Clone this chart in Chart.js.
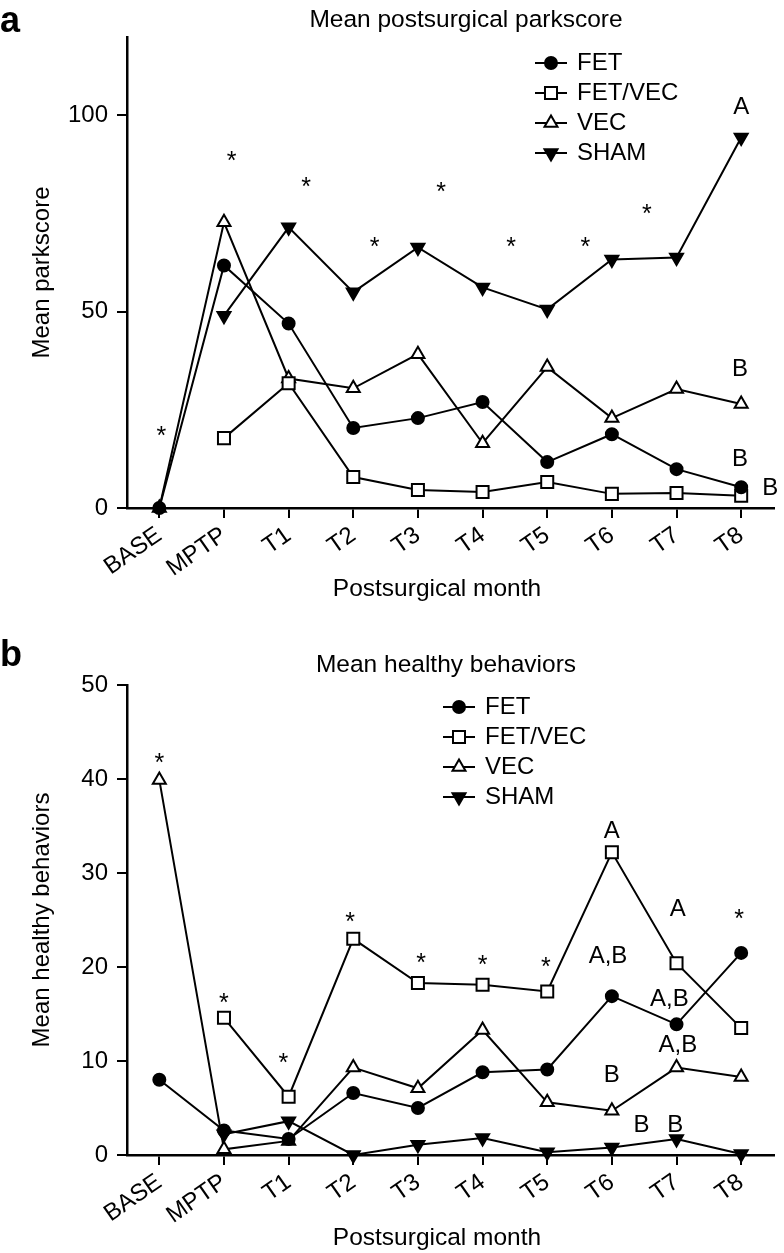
<!DOCTYPE html>
<html>
<head>
<meta charset="utf-8">
<script src="https://cdn.jsdelivr.net/npm/chart.js@4.4.1/dist/chart.umd.min.js"></script>
<style>
  html, body { margin: 0; padding: 0; background: #fff; }
  #wrap { position: relative; width: 784px; height: 1253px; }
  canvas { position: absolute; left: 0; }
</style>
</head>
<body>
<div id="wrap">
  <canvas id="chartA" width="784" height="610" style="top:0"></canvas>
  <canvas id="chartB" width="784" height="643" style="top:610px"></canvas>
</div>
<script>
const FONT = '"Liberation Sans", Arial, Helvetica, sans-serif';
const FS = 24;
Chart.defaults.font.family = FONT;
Chart.defaults.color = '#000';

// categories
const months = ["BASE", "MPTP", "T1", "T2", "T3", "T4", "T5", "T6", "T7", "T8"];

// panel a - mean parkscore
const parkFET = [0, 61.8, 47, 20.4, 22.9, 27, 11.7, 18.8, 9.9, 5.3];
const parkFETVEC = [null, 17.8, 31.8, 7.9, 4.6, 4.1, 6.6, 3.6, 3.8, 3.1];
const parkVEC = [0, 72.8, 33, 30.5, 39.2, 16.5, 35.9, 22.9, 30.3, 26.5];
const parkSHAM = [null, 49, 71.5, 55, 66.4, 56.2, 50.6, 63.3, 63.8, 94.4];
const parkTicks = [0, 50, 100];
// [text, category index, value]
const parkNotes = [
  ["*", 0.03, 20], ["*", 1.12, 90], ["*", 2.27, 83.5], ["*", 3.33, 68],
  ["*", 4.36, 82], ["*", 5.44, 68], ["*", 6.59, 68], ["*", 7.54, 76.5],
  ["A", 9, 102.5], ["B", 8.98, 35.9], ["B", 8.98, 12.8], ["B", 9.45, 5.6]
];

// panel b - mean healthy behaviors
const behFET = [8, 2.6, 1.7, 6.6, 5, 8.8, 9.1, 16.9, 13.9, 21.5];
const behFETVEC = [null, 14.6, 6.2, 23, 18.3, 18.1, 17.4, 32.2, 20.4, 13.5];
const behVEC = [39.9, 0.6, 1.5, 9.3, 7.1, 13.3, 5.6, 4.7, 9.3, 8.3];
const behSHAM = [null, 2.2, 3.6, 0, 1.1, 1.8, 0.3, 0.8, 1.7, 0.1];
const behTicks = [0, 10, 20, 30, 40, 50];
const behNotes = [
  ["*", 0, 42.4], ["*", 1, 16.8], ["*", 1.92, 10.5], ["*", 2.95, 25.5],
  ["*", 4.05, 21.1], ["*", 5, 20.9], ["*", 5.98, 20.7], ["A", 7, 34.6],
  ["A", 8.02, 26.3], ["*", 8.97, 25.8], ["A,B", 6.94, 21.3], ["A,B", 7.89, 16.8],
  ["A,B", 8.02, 11.9], ["B", 7, 8.7], ["B", 7.46, 3.4], ["B", 7.98, 3.4]
];

function series(label, data, style, fill, radius, rot) {
  return {
    label, data,
    borderColor: '#000', borderWidth: 2, tension: 0, clip: false,
    pointStyle: style, pointRadius: radius, pointHoverRadius: radius,
    pointRotation: rot || 0,
    pointBackgroundColor: fill, pointBorderColor: '#000', pointBorderWidth: 2
  };
}

// titles, legend, letters and significance marks
const decor = {
  id: 'decor',
  afterDraw(chart, args, o) {
    const { ctx, scales: { x, y } } = chart;
    ctx.save();
    ctx.fillStyle = '#000';
    ctx.font = 'bold 36px ' + FONT;
    ctx.textAlign = 'left';
    ctx.textBaseline = 'alphabetic';
    ctx.fillText(o.letter, 0, o.letterY);

    ctx.font = '24.5px ' + FONT;
    ctx.textAlign = 'center';
    ctx.textBaseline = 'middle';
    ctx.fillText(o.title, o.titleX, o.titleY);
    ctx.fillText('Postsurgical month', o.xTitleX, o.xTitleY);

    ctx.font = FS + 'px ' + FONT;
    chart.data.datasets.forEach((ds, k) => {
      const ly = o.legendY + k * 30;
      ctx.strokeStyle = '#000';
      ctx.lineWidth = 2;
      ctx.beginPath();
      ctx.moveTo(o.legendX, ly);
      ctx.lineTo(o.legendX + 32, ly);
      ctx.stroke();
      ctx.fillStyle = ds.pointBackgroundColor;
      Chart.helpers.drawPoint(ctx, {
        pointStyle: ds.pointStyle, radius: ds.pointRadius,
        rotation: ds.pointRotation, borderWidth: 2
      }, o.legendX + 16, ly);
      ctx.fillStyle = '#000';
      ctx.textAlign = 'left';
      ctx.fillText(ds.label, o.legendX + 42, ly);
    });

    ctx.textAlign = 'center';
    ctx.textBaseline = 'alphabetic';
    o.notes.forEach(([t, i, v]) => {
      const star = t === '*';
      const fs = star ? 25 : FS;
      ctx.font = fs + 'px ' + FONT;
      ctx.fillText(t, x.getPixelForValue(i), y.getPixelForValue(v) + (star ? 0.57 : 0.36) * fs);
    });
    ctx.restore();
  }
};

function makeChart(id, sets, yMax, ticks, yTitle, pad, xHeight, deco) {
  return new Chart(document.getElementById(id), {
    type: 'line',
    data: { labels: months, datasets: sets },
    plugins: [decor],
    options: {
      responsive: false,
      animation: false,
      devicePixelRatio: 1,
      layout: { padding: pad },
      plugins: { legend: { display: false }, tooltip: { enabled: false }, decor: deco },
      scales: {
        x: {
          offset: true,
          afterFit: s => { s.height = xHeight; },
          grid: { drawOnChartArea: false, drawTicks: true, tickLength: 10, color: '#000', lineWidth: 2 },
          border: { display: true, color: '#000', width: 2.5 },
          ticks: { autoSkip: false, minRotation: 35, maxRotation: 35, padding: 3, font: { size: FS } }
        },
        y: {
          min: 0, max: yMax,
          afterFit: s => { s.width = 127; },
          afterBuildTicks: s => { s.ticks = ticks.map(v => ({ value: v })); },
          grid: { drawOnChartArea: false, drawTicks: true, tickLength: 10, color: '#000', lineWidth: 2 },
          border: { display: true, color: '#000', width: 2.5 },
          ticks: { padding: 9, font: { size: FS } },
          title: { display: true, text: yTitle, font: { size: FS }, padding: { top: 28, bottom: 0 } }
        }
      }
    }
  });
}

makeChart('chartA', [
  series('FET', parkFET, 'circle', '#000', 6),
  series('FET/VEC', parkFETVEC, 'rect', '#fff', 8.5),
  series('VEC', parkVEC, 'triangle', '#fff', 7.5),
  series('SHAM', parkSHAM, 'triangle', '#000', 7.5, 180)
], 120, parkTicks, 'Mean parkscore', { left: 0, right: 7, top: 37, bottom: 0 }, 102, {
  letter: 'a', letterY: 32, title: 'Mean postsurgical parkscore', titleX: 466, titleY: 20,
  xTitleX: 437, xTitleY: 589, legendX: 535, legendY: 63, notes: parkNotes
});

makeChart('chartB', [
  series('FET', behFET, 'circle', '#000', 6),
  series('FET/VEC', behFETVEC, 'rect', '#fff', 8.5),
  series('VEC', behVEC, 'triangle', '#fff', 7.5),
  series('SHAM', behSHAM, 'triangle', '#000', 7.5, 180)
], 50, behTicks, 'Mean healthy behaviors', { left: 0, right: 9, top: 75, bottom: 0 }, 98, {
  letter: 'b', letterY: 56, title: 'Mean healthy behaviors', titleX: 446, titleY: 55,
  xTitleX: 437, xTitleY: 628, legendX: 443, legendY: 97, notes: behNotes
});
</script>
</body>
</html>
